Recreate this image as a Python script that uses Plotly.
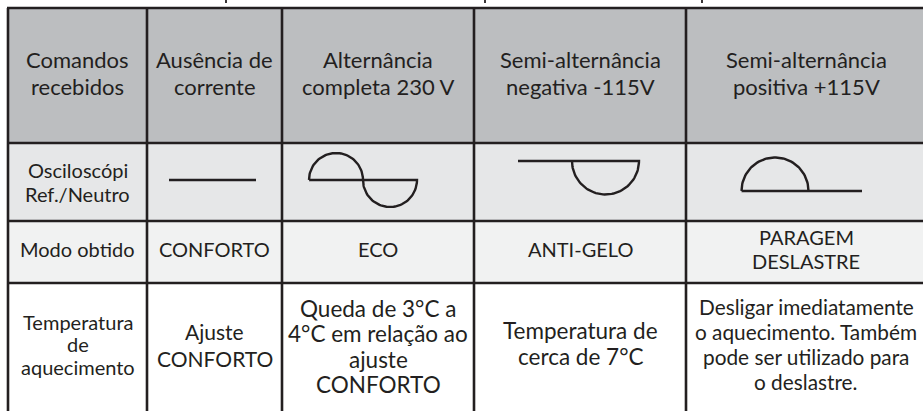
import numpy as np
import plotly.graph_objects as go

# ---- data (table contents, one list of lines per cell) ----
header_cells = [["Comandos", "recebidos"], ["Ausência de", "corrente"], ["Alternância", "completa 230 V"],
                ["Semi-alternância", "negativa -115V"], ["Semi-alternância", "positiva +115V"]]
row2_label = ["Osciloscópi", "Ref./Neutro"]
waveforms = ["flat", "full", "negative", "positive"]
row3_cells = [["Modo obtido"], ["CONFORTO"], ["ECO"], ["ANTI-GELO"], ["PARAGEM", "DESLASTRE"]]
row4_cells = [["Temperatura", "de", "aquecimento"], ["Ajuste", "CONFORTO"],
              ["Queda de 3°C a", "4°C em relação ao", "ajuste", "CONFORTO"],
              ["Temperatura de", "cerca de 7°C"],
              ["Desligar imediatamente", "o aquecimento. Também", "pode ser utilizado para", "o deslastre."]]

# ---- layout constants ----
W, H = 923, 411
col_edges = [8, 147, 282, 474, 686, 930]
row_edges = [8, 143, 221, 283, 420]
row_fills = ["#bcbec0", "#e6e7e8", "#f1f2f2", "#ffffff"]
ink = "#231f20"
FONT = "Lato"
LW = 2.6

fig = go.Figure()
shapes = []
for i, fc in enumerate(row_fills):
    shapes.append(dict(type="rect", x0=col_edges[0], x1=col_edges[-1], y0=row_edges[i], y1=row_edges[i + 1],
                       fillcolor=fc, line=dict(width=0), layer="below"))
for y in row_edges[:-1]:
    shapes.append(dict(type="line", x0=col_edges[0] - 1, x1=col_edges[-1], y0=y, y1=y,
                       line=dict(color=ink, width=LW)))
for x in col_edges[:-1]:
    shapes.append(dict(type="line", x0=x, x1=x, y0=row_edges[0], y1=H + 5,
                       line=dict(color=ink, width=LW)))
# cut-off descenders of title above table
for x in [226, 485, 702]:
    shapes.append(dict(type="line", x0=x, x1=x, y0=-1, y1=3, line=dict(color=ink, width=1.8)))

cx = [(col_edges[i] + col_edges[i + 1]) / 2 for i in range(5)]
cx[4] = 806

ann = []
def add_cell(x, yc, lines, size, spacing):
    n = len(lines)
    for j, t in enumerate(lines):
        y = yc + (j - (n - 1) / 2) * spacing
        ann.append(dict(x=x, y=y, text=t, showarrow=False, xanchor="center", yanchor="middle",
                        font=dict(family=FONT, size=size, color=ink)))

for i, t in enumerate(header_cells):
    add_cell(cx[i], 73, t, 22, 27)
add_cell(cx[0], 182, row2_label, 20, 24)
for i, t in enumerate(row3_cells):
    add_cell(cx[i], 249, t, 20, 24)
row4_sizes = [20, 21, 22.5, 22.5, 20.8]
row4_y = [344, 345, 346.5, 343, 343.5]
row4_sp = [22.5, 27, 25.3, 26, 25]
for i, t in enumerate(row4_cells):
    add_cell(cx[i], row4_y[i], t, row4_sizes[i], row4_sp[i])

# ---- waveform glyphs ----
def line_trace(xs, ys):
    fig.add_trace(go.Scatter(x=xs, y=ys, mode="lines", line=dict(color=ink, width=2.4),
                             hoverinfo="skip", showlegend=False))

th = np.linspace(np.pi, 0, 60)
for k, wf in enumerate(waveforms):
    if wf == "flat":
        line_trace([169, 256], [180, 180])
    elif wf == "full":
        r = 27
        x0 = 309
        xs1 = list(x0 + r + r * np.cos(th)); ys1 = list(180 - r * np.sin(th))
        xs2 = list(x0 + 3 * r + r * np.cos(th)); ys2 = list(180 + r * np.sin(th))
        line_trace(xs1 + xs2 + [x0 + 4 * r, x0], ys1 + ys2 + [180, 180])
    elif wf == "negative":
        r = 33.5
        xs = list(605.5 + r * np.cos(th[::-1])); ys = list(161 + r * np.sin(th[::-1]))
        line_trace([518, 639] + xs, [161, 161] + ys)
    elif wf == "positive":
        r = 33.5
        xs = list(775 + r * np.cos(th)); ys = list(191 - r * np.sin(th))
        line_trace(xs + [862, 775 - r], ys + [191, 191])

fig.update_layout(
    width=W, height=H, margin=dict(l=0, r=0, t=0, b=0),
    paper_bgcolor="white", plot_bgcolor="white",
    xaxis=dict(range=[0, W], visible=False, fixedrange=True),
    yaxis=dict(range=[H, 0], visible=False, fixedrange=True),
    shapes=shapes, annotations=ann, showlegend=False,
)
fig.write_html("out.html", config={"displayModeBar": False},
               post_script="document.body.style.margin='0';document.body.style.overflow='hidden';")
